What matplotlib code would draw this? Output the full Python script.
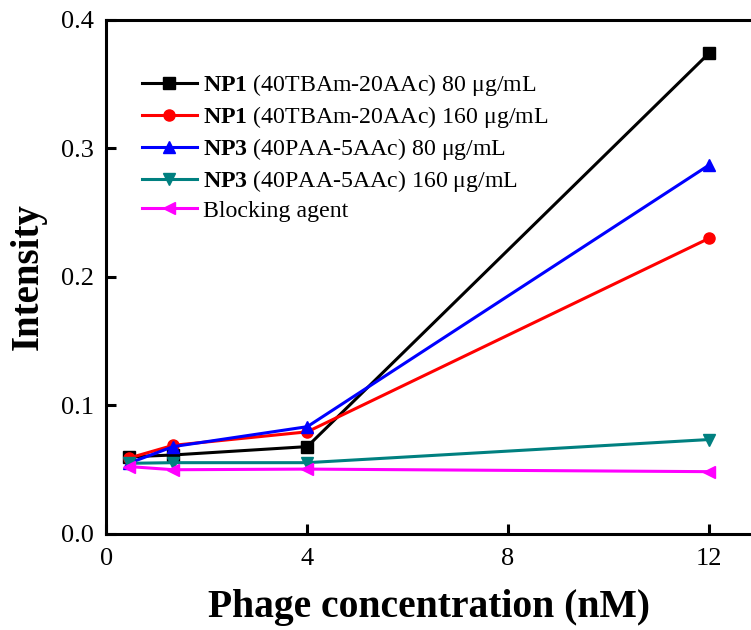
import matplotlib.pyplot as plt

plt.rcParams['font.family'] = 'Liberation Serif'
plt.rcParams['mathtext.fontset'] = 'custom'
plt.rcParams['mathtext.rm'] = 'Liberation Serif'
plt.rcParams['mathtext.bf'] = 'Liberation Serif:bold'

conc = [0.44, 1.33, 4, 12]

np1_80 = [0.060, 0.0615, 0.068, 0.374]
np1_160 = [0.059, 0.069, 0.0795, 0.230]
np3_80 = [0.055, 0.068, 0.0835, 0.287]
np3_160 = [0.055, 0.0555, 0.0555, 0.0735]
blocking = [0.0525, 0.050, 0.0505, 0.0485]

labels = [
    r'$\mathbf{NP1}$ (40TBAm-20AAc) 80 μg/mL',
    r'$\mathbf{NP1}$ (40TBAm-20AAc) 160 μg/mL',
    r'$\mathbf{NP3}$ (40PAA-5AAc) 80 μg/mL',
    r'$\mathbf{NP3}$ (40PAA-5AAc) 160 μg/mL',
    'Blocking agent',
]
series = [np1_80, np1_160, np3_80, np3_160, blocking]
colors = ['black', '#ff0000', '#0000ff', '#008080', '#ff00ff']
markers = ['s', 'o', '^', 'v', '<']

fig = plt.figure(figsize=(7.51, 6.30), dpi=100)
ax = fig.add_axes([0.1418, 0.1524, 0.8582, 0.8159])

for vals, lab, c, m in zip(series, labels, colors, markers):
    ax.plot(conc, vals, color=c, marker=m, markersize=8, linewidth=2.2, label=lab)

ax.set_xlim(0, 12.84)
ax.set_ylim(0, 0.4)
ax.set_xticks([0, 4, 8, 12])
ax.set_yticks([0.0, 0.1, 0.2, 0.3, 0.4])
ax.set_yticklabels(['0.0', '0.1', '0.2', '0.3', '0.4'])

for side in ['left', 'bottom', 'top']:
    ax.spines[side].set_linewidth(2.2)
ax.spines['right'].set_visible(False)
ax.tick_params(direction='in', length=7, width=2.2, labelsize=19,
               top=False, right=False)
ax.tick_params(axis='x', pad=10)
ax.tick_params(axis='y', pad=9)

ax.set_xlabel('Phage concentration (nM)', fontsize=28.5, fontweight='bold', labelpad=14)
ax.set_ylabel('Intensity', fontsize=28, fontweight='bold', labelpad=10)

ax.legend(loc='upper left', bbox_to_anchor=(0.04, 0.917), frameon=False,
          fontsize=17.2, handlelength=2.3, labelspacing=0.25, handletextpad=0.25,
          borderaxespad=0)

plt.savefig('out.png', dpi=100)
